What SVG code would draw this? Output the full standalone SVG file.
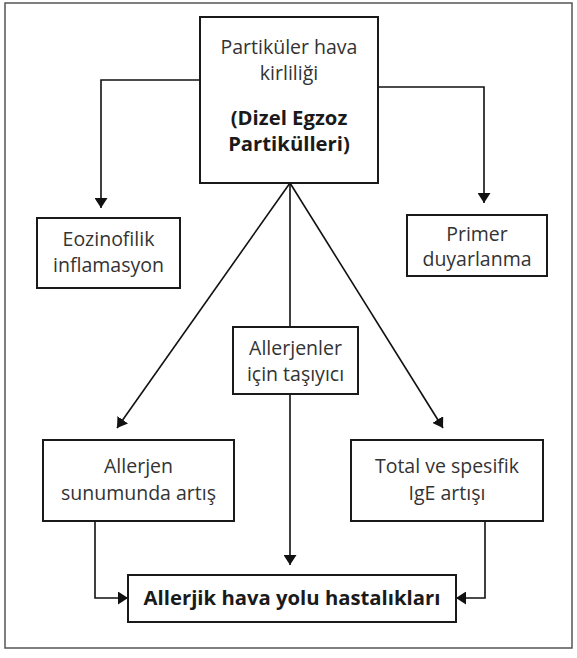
<svg xmlns="http://www.w3.org/2000/svg" width="577" height="658" viewBox="0 0 577 658">
<defs>
<marker id="ah" markerWidth="10" markerHeight="13" refX="10" refY="6.5" orient="auto" markerUnits="userSpaceOnUse">
<path d="M0,0 L10,6.5 L0,13 z" fill="#111"/>
</marker>
<style>
.box{fill:#fff;stroke:#1a1a1a;stroke-width:2}
.t{font-family:"Open Sans","Liberation Sans",sans-serif;font-size:19.5px;fill:#333;text-anchor:middle}
.b{font-weight:bold;font-size:20.3px;fill:#1a1a1a}
.c{fill:none;stroke:#111;stroke-width:1.6}
</style>
</defs>
<rect x="5" y="3" width="567" height="645" fill="#fff" stroke="#555" stroke-width="1.5"/>
<g id="connectors">
<polyline class="c" points="200,80 101,80 101,208" marker-end="url(#ah)"/>
<polyline class="c" points="378,87 484,87 484,203" marker-end="url(#ah)"/>
<line class="c" x1="290" y1="183" x2="117" y2="428" marker-end="url(#ah)"/>
<line class="c" x1="290" y1="183" x2="443" y2="428" marker-end="url(#ah)"/>
<line class="c" x1="290" y1="183" x2="290" y2="327"/>
<line class="c" x1="290" y1="394" x2="290" y2="565" marker-end="url(#ah)"/>
<polyline class="c" points="95,521 95,598 128,598" marker-end="url(#ah)"/>
<polyline class="c" points="485,521 485,598 456,598" marker-end="url(#ah)"/>
</g>
<g id="top">
<rect class="box" x="200" y="17" width="178" height="166"/>
<text class="t" x="289" y="54">Partiküler hava</text>
<text class="t" x="289" y="80">kirliliği</text>
<text class="t b" x="289" y="125">(Dizel Egzoz</text>
<text class="t b" x="289" y="151">Partikülleri)</text>
</g>
<g id="eozinofilik">
<rect class="box" x="37" y="218" width="143" height="70"/>
<text class="t" x="108.5" y="246">Eozinofilik</text>
<text class="t" x="108.5" y="272">inflamasyon</text>
</g>
<g id="primer">
<rect class="box" x="407" y="215" width="140" height="61"/>
<text class="t" x="477" y="241">Primer</text>
<text class="t" x="477" y="266">duyarlanma</text>
</g>
<g id="tasiyici">
<rect class="box" x="233" y="327" width="125" height="67"/>
<text class="t" x="295.5" y="355">Allerjenler</text>
<text class="t" x="295.5" y="381">için taşıyıcı</text>
</g>
<g id="sunum">
<rect class="box" x="43" y="440" width="191" height="81"/>
<text class="t" x="138.5" y="473">Allerjen</text>
<text class="t" x="138.5" y="500">sunumunda artış</text>
</g>
<g id="ige">
<rect class="box" x="351" y="440" width="192" height="81"/>
<text class="t" x="447" y="473">Total ve spesifik</text>
<text class="t" x="447" y="500">IgE artışı</text>
</g>
<g id="hastalik">
<rect class="box" x="128" y="575" width="328" height="47"/>
<text class="t b" x="292" y="605">Allerjik hava yolu hastalıkları</text>
</g>
</svg>
